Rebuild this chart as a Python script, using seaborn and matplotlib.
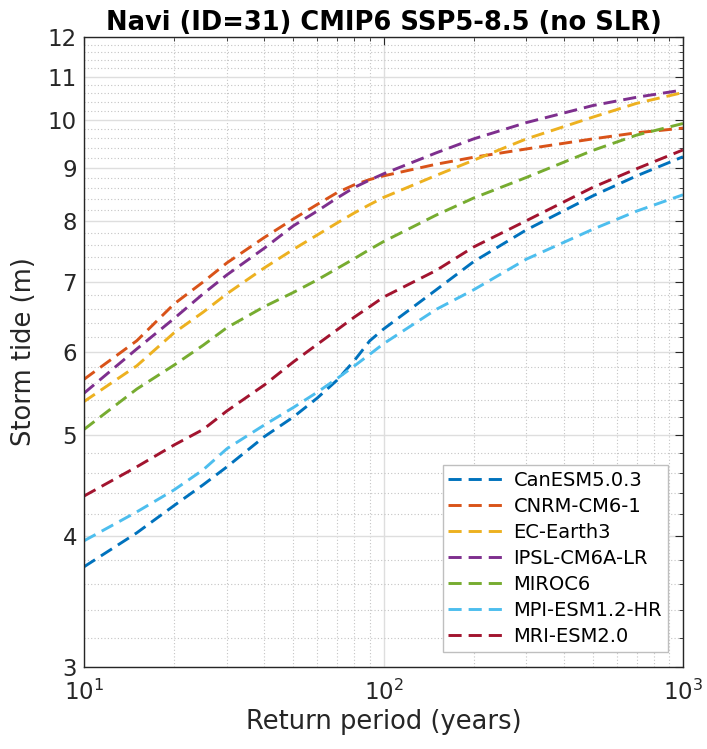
import matplotlib
matplotlib.use("Agg")
import matplotlib.pyplot as plt
from matplotlib.ticker import FixedLocator, FixedFormatter, MultipleLocator, NullFormatter
import numpy as np
import pandas as pd
import seaborn as sns

# Return periods (years) and storm-tide levels (m) per CMIP6 model
return_period = [10, 15, 20, 25, 30, 40, 50, 60, 70, 80, 90, 100, 150, 200, 300, 500, 700, 1000]

canesm = [3.74, 4.03, 4.28, 4.48, 4.66, 4.98, 5.20, 5.42, 5.64, 5.89, 6.15, 6.31, 6.88, 7.32, 7.85, 8.46, 8.84, 9.22]
cnrm = [5.65, 6.15, 6.67, 7.00, 7.30, 7.72, 8.04, 8.30, 8.52, 8.67, 8.77, 8.84, 9.07, 9.21, 9.38, 9.59, 9.72, 9.82]
ec_earth = [5.38, 5.82, 6.26, 6.55, 6.82, 7.22, 7.52, 7.76, 7.97, 8.15, 8.30, 8.43, 8.85, 9.15, 9.59, 10.06, 10.37, 10.62]
ipsl = [5.48, 6.04, 6.46, 6.82, 7.11, 7.54, 7.92, 8.18, 8.42, 8.62, 8.76, 8.88, 9.30, 9.59, 9.94, 10.32, 10.51, 10.68]
miroc = [5.06, 5.53, 5.83, 6.09, 6.33, 6.63, 6.84, 7.03, 7.21, 7.37, 7.52, 7.65, 8.11, 8.42, 8.81, 9.35, 9.67, 9.92]
mpi = [3.96, 4.22, 4.43, 4.63, 4.85, 5.11, 5.31, 5.49, 5.66, 5.82, 5.97, 6.11, 6.59, 6.88, 7.36, 7.86, 8.18, 8.48]
mri = [4.37, 4.66, 4.89, 5.06, 5.27, 5.58, 5.87, 6.10, 6.30, 6.48, 6.63, 6.77, 7.18, 7.56, 8.01, 8.62, 8.98, 9.36]

models = ["CanESM5.0.3", "CNRM-CM6-1", "EC-Earth3", "IPSL-CM6A-LR",
          "MIROC6", "MPI-ESM1.2-HR", "MRI-ESM2.0"]
series = [canesm, cnrm, ec_earth, ipsl, miroc, mpi, mri]
colors = ["#0072BD", "#D95319", "#EDB120", "#7E2F8E", "#77AC30", "#4DBEEE", "#A2142F"]

y_ticks = [3, 4, 5, 6, 7, 8, 9, 10, 11, 12]

df = pd.DataFrame({
    "Return period": np.tile(return_period, len(models)),
    "Storm tide": np.concatenate(series),
    "Model": np.repeat(models, len(return_period)),
})

sns.set_theme(style="white")
plt.rcParams["font.family"] = ["DejaVu Sans"]
text_color = "#262626"

fig = plt.figure(figsize=(7.07, 7.49), dpi=100)
ax = fig.add_axes([84 / 707, 82 / 749, 599 / 707, 630 / 749])

sns.lineplot(
    data=df, x="Return period", y="Storm tide", hue="Model", hue_order=models,
    palette=dict(zip(models, colors)), style="Model", style_order=models,
    dashes={m: (4.5, 2.4) for m in models}, linewidth=2.1, sort=True,
    legend=False, ax=ax,
)

ax.set_xscale("log")
ax.set_yscale("log")
ax.set_xlim(10, 1000)
ax.set_ylim(3, 12)

ax.yaxis.set_major_locator(FixedLocator(y_ticks))
ax.yaxis.set_major_formatter(FixedFormatter([str(t) for t in y_ticks]))
ax.yaxis.set_minor_locator(MultipleLocator(0.2))
ax.yaxis.set_minor_formatter(NullFormatter())

ax.grid(True, which="major", color="#dedede", linewidth=1.0, linestyle="-")
ax.grid(True, which="minor", color="#c4c4c4", linewidth=0.8, linestyle=(0, (1, 2)))
ax.set_axisbelow(True)

for side in ["left", "right", "top", "bottom"]:
    ax.spines[side].set_visible(True)
    ax.spines[side].set_color(text_color)
    ax.spines[side].set_linewidth(1.0)

ax.tick_params(which="both", direction="in", top=True, right=True,
               colors=text_color, labelsize=16.5)
ax.tick_params(which="major", length=6, width=0.8)
ax.tick_params(axis="y", which="major", pad=5)
ax.tick_params(axis="x", which="major", pad=9)
ax.tick_params(which="minor", length=3, width=0.6)

ax.set_xlabel("Return period (years)", fontsize=18.5, color=text_color, labelpad=3)
ax.set_ylabel("Storm tide (m)", fontsize=18.5, color=text_color, labelpad=8)
ax.set_title("Navi (ID=31) CMIP6 SSP5-8.5 (no SLR)", fontsize=18.5,
             fontweight="bold", color="black", pad=5)

leg = ax.legend(
    handles=ax.lines[:len(models)], labels=models, loc="lower right",
    bbox_to_anchor=(0.975, 0.024), borderaxespad=0, fontsize=14,
    frameon=True, fancybox=False, framealpha=1, edgecolor="#bfbfbf",
    handlelength=3.0, handletextpad=0.35, labelspacing=0.36, borderpad=0.3,
)
leg.get_frame().set_linewidth(1.0)
for t in leg.get_texts():
    t.set_color("black")

fig.savefig("out.png", dpi=100, facecolor="white")
